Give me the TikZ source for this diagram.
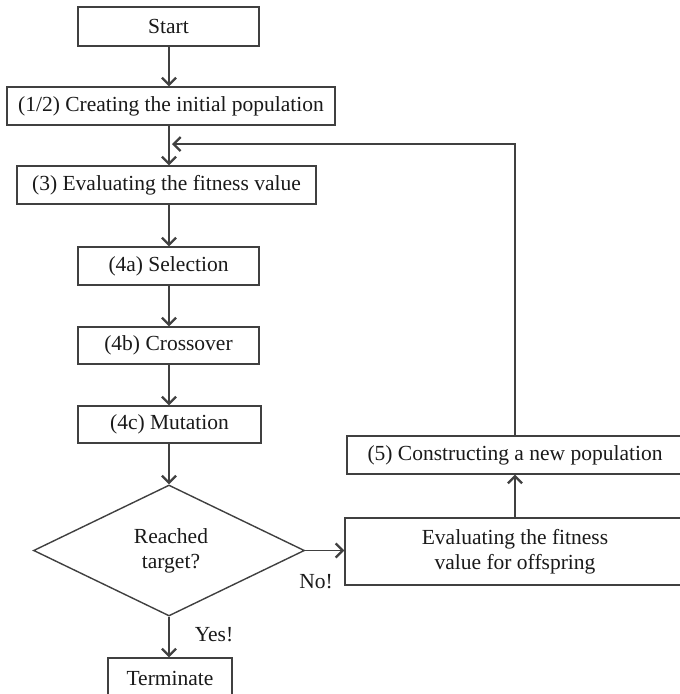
\documentclass[tikz,border=0pt]{standalone}
\usepackage{fontspec}
\setmainfont{Liberation Serif}
\usetikzlibrary{arrows.meta,shapes.geometric}
\definecolor{linec}{HTML}{404040}
\definecolor{textc}{HTML}{1A1A1A}
\begin{document}
\begin{tikzpicture}[x=1pt,y=-1pt,
  txt/.style={font=\fontsize{21.5}{25}\selectfont,text=textc},
  box/.style={txt,draw=linec,line width=1.4pt,inner sep=0pt,align=center},
  decision/.style={box,diamond,aspect=2.08},
  arr/.style={draw=linec,line width=1.4pt,-{Straight Barb[length=7pt,width=14pt,line width=2.3pt]}}]
\useasboundingbox (0,0) rectangle (680,694);
\clip (0,0) rectangle (680,694);
\fill[white] (0,0) rectangle (680,694);
\coordinate (ml) at (169,0);
\node[box,minimum width=181pt,minimum height=39pt] (start) at (168.5,26.5) {Start};
\node[box,minimum width=328pt,minimum height=38pt] (init) at (171,106) {(1/2) Creating the initial population};
\node[box,minimum width=299pt,minimum height=38pt] (eval) at (166.5,185) {(3) Evaluating the fitness value};
\node[box,minimum width=181pt,minimum height=38pt] (sel) at (168.5,266) {(4a) Selection};
\node[box,minimum width=181pt,minimum height=37pt] (cross) at (168.5,345.5) {(4b) Crossover};
\node[box,minimum width=183pt,minimum height=37pt] (mut) at (169.5,424.5) {(4c) Mutation};
\node[decision,minimum width=271pt,minimum height=131pt] (dec) at (169,550.5) {};
\node[txt,align=center] (dectext) at (171,551) {Reached\\target?};
\node[box,minimum width=124pt,minimum height=40pt] (term) at (170,678) {Terminate};
\node[box,minimum width=340pt,minimum height=67pt] (off) at (515,551.5) {Evaluating the fitness\\value for offspring};
\node[box,minimum width=336pt,minimum height=38pt] (newpop) at (515,455) {(5) Constructing a new population};
\coordinate (fb) at (172,144);
\node[txt] (no) at (316,582) {No!};
\node[txt] (yes) at (214,635) {Yes!};

\draw[arr] (start.south -| ml) -- (init.north -| ml);
\draw[arr] (init.south -| ml) -- (eval.north -| ml);
\draw[arr] (eval.south -| ml) -- (sel.north -| ml);
\draw[arr] (sel.south -| ml) -- (cross.north -| ml);
\draw[arr] (cross.south -| ml) -- (mut.north -| ml);
\draw[arr] (mut.south -| ml) -- (dec.north);
\draw[arr] (dec.south) -- (term.north -| dec.south);
\draw[arr] (dec.east) -- (dec.east -| off.west);
\draw[arr] (off.north) -- (newpop.south);
\draw[arr] (newpop.north) |- (fb);
\end{tikzpicture}
\end{document}
